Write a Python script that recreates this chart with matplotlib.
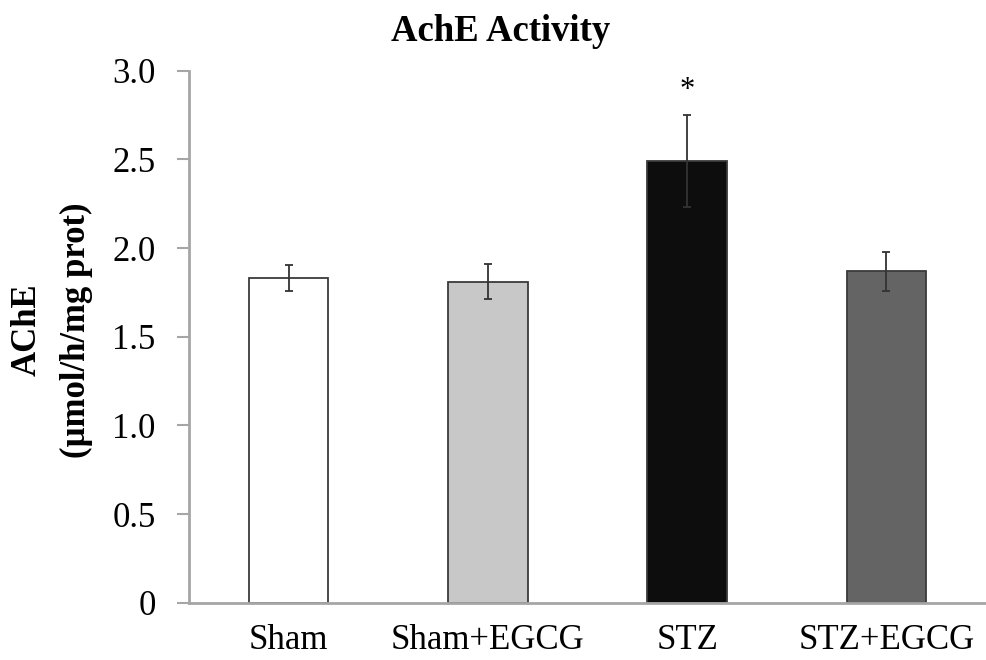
import numpy as np
import matplotlib.pyplot as plt

# Actividad de AChE por grupo
grupos = ["Sham", "Sham+EGCG", "STZ", "STZ+EGCG"]
medias = [1.83, 1.81, 2.49, 1.87]
errores = [0.075, 0.10, 0.258, 0.11]
colores = ["#ffffff", "#c8c8c8", "#0d0d0d", "#646464"]

plt.rcParams["font.family"] = ["Liberation Serif", "DejaVu Serif"]

fig = plt.figure(figsize=(9.86, 6.6), dpi=100)
ax = fig.add_axes([0.1917, 0.0868, 0.8083, 0.8061])

x = np.arange(len(grupos))
ax.bar(x, medias, width=0.40, color=colores, edgecolor="#3a3a3a", linewidth=1.3, zorder=2)
ax.errorbar(x, medias, yerr=errores, fmt="none", ecolor="#333333",
            elinewidth=1.3, capsize=3, capthick=1.3, zorder=3)

# asterisco sobre STZ
ax.text(x[2], medias[2] + errores[2] + 0.06, "*", ha="center", va="bottom", fontsize=22)

ax.set_xlim(-0.5, 3.5)
ax.set_ylim(0, 3.0)
ax.set_yticks(np.arange(0, 3.01, 0.5))
ax.set_yticklabels(["0", "0.5", "1.0", "1.5", "2.0", "2.5", "3.0"])
ax.set_xticks(x)
ax.set_xticklabels(grupos)

ax.tick_params(axis="y", direction="out", length=9, width=1.5, color="#a6a6a6",
               labelsize=25, pad=15)
ax.tick_params(axis="x", length=0, labelsize=25, pad=15)

for lado in ["top", "right"]:
    ax.spines[lado].set_visible(False)
for lado in ["left", "bottom"]:
    ax.spines[lado].set_color("#a6a6a6")
    ax.spines[lado].set_linewidth(2)

fig.text(0.508, 0.953, "AchE Activity", ha="center", va="center", fontsize=26.5, fontweight="bold")
fig.text(0.028, 0.50, "AChE", ha="center", va="center", rotation=90, fontsize=25, fontweight="bold")
fig.text(0.078, 0.50, "(µmol/h/mg prot)", ha="center", va="center", rotation=90,
         fontsize=25, fontweight="bold")

plt.savefig("out.png", dpi=100)
